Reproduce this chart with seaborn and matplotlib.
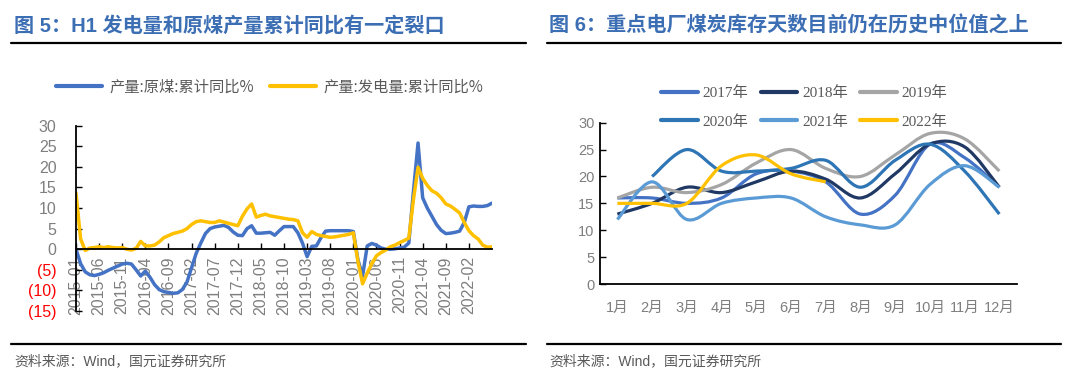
import numpy as np
import pandas as pd
import matplotlib
matplotlib.use("Agg")
import matplotlib.pyplot as plt
import seaborn as sns
from matplotlib.path import Path
from matplotlib.patches import PathPatch
from matplotlib.lines import Line2D

# ---- data: figure 5 (monthly, 2015-01 .. 2022-07) ----
months = pd.date_range("2015-01-01", "2022-07-01", freq="MS").strftime("%Y-%m").tolist()
coal_yoy = [0, -3.5, -5.5, -6.2, -6.4, -6.1, -5.7, -5.1, -4.6, -4.1, -3.6, -3.4,
            -3.6, -5.0, -6.5, -5.3, -6.8, -8.6, -9.8, -10.3, -10.5, -10.7, -10.6, -9.8,
            -8.0, -4.5, -1.0, 1.5, 3.8, 5.0, 5.4, 5.6, 5.8, 5.3, 4.2, 3.4,
            3.3, 5.0, 5.7, 3.9, 3.9, 4.0, 4.1, 3.4, 4.5, 5.5, 5.5, 5.5,
            4.0, 1.5, -1.8, 0.7, 0.8, 2.8, 4.4, 4.5, 4.5, 4.5, 4.5, 4.5,
            4.3, -2.6, -6.5, 0.8, 1.4, 1.0, 0.3, 0.0, 0.0, 0.1, 0.3, 0.5,
            1.5, 14.0, 25.8, 12.5, 10.0, 8.0, 6.0, 4.6, 3.8, 3.9, 4.1, 4.4,
            6.5, 10.3, 10.5, 10.4, 10.4, 10.6, 11.2]
power_yoy = [13.6, 2.5, -0.3, 0.3, 0.4, 0.6, 0.4, 0.6, 0.4, 0.3, 0.4, 0.0,
             -0.2, 0.2, 1.9, 0.8, 0.8, 1.0, 1.8, 2.8, 3.3, 3.8, 4.1, 4.4,
             5.0, 6.0, 6.7, 6.9, 6.7, 6.5, 6.5, 6.9, 6.6, 6.3, 6.0, 5.7,
             8.0, 9.8, 11.0, 7.8, 8.2, 8.5, 8.1, 7.9, 7.7, 7.5, 7.3, 7.2,
             6.9, 4.0, 2.9, 4.3, 3.6, 3.3, 3.1, 2.9, 3.0, 3.2, 3.4, 3.6,
             4.0, -3.0, -8.4, -5.8, -3.5, -1.6, -0.8, -0.2, 0.6, 1.0, 1.6, 2.1,
             2.7, 12.0, 19.9, 17.2, 15.5, 14.2, 13.6, 12.5, 11.0, 10.5, 9.7, 8.8,
             6.5, 4.5, 3.3, 2.5, 1.0, 0.5, 0.6]
series_names = ["产量:原煤:累计同比%", "产量:发电量:累计同比%"]
series_colors = ["#4472C4", "#FFC000"]

# ---- data: figure 6 (coal stock days by month) ----
month_labels = ["1月", "2月", "3月", "4月", "5月", "6月", "7月", "8月", "9月", "10月", "11月", "12月"]
nan = np.nan
days_2017 = [16, 16, 15, 16, 20.5, 21, 19, 13, 16.5, 26, 23.5, 18]
days_2018 = [13, 15, 18, 17, 19, 21, 19.5, 16, 20.5, 26, 25.5, 18]
days_2019 = [16, 18, 17, 18.5, 22.5, 25, 21.5, 20, 24, 28, 27, 21]
days_2020 = [nan, 20, 25, 21, 21, 21.5, 23, 18, 23, 26, 21, 13]
days_2021 = [12, 19, 12, 15, 16, 16, 12.5, 11, 11, 18.5, 22, 18]
days_2022 = [15, 15, 15, 22, 24, 20.5, 19, nan, nan, nan, nan, nan]
year_labels = ["2017年", "2018年", "2019年", "2020年", "2021年", "2022年"]
year_colors = ["#4472C4", "#203864", "#A5A5A5", "#2E75B6", "#5B9BD5", "#FFC000"]

sns.set_theme(style="white")
plt.rcParams["font.family"] = ["Liberation Sans", "Noto Sans CJK SC", "DejaVu Sans"]
plt.rcParams["axes.unicode_minus"] = False

W, H = 1080, 369
fig = plt.figure(figsize=(W / 100, H / 100), dpi=100)
GRAY = "#7F7F7F"
TITLE_BLUE = "#3C6EB4"


def px_axes(x0, y0, x1, y1):
    # pixel box (top-left origin) -> figure fraction axes
    return fig.add_axes([x0 / W, 1 - y1 / H, (x1 - x0) / W, (y1 - y0) / H])


def hline(x0, x1, y, lw=1.6):
    fig.add_artist(Line2D([x0 / W, x1 / W], [1 - y / H, 1 - y / H],
                          transform=fig.transFigure, color="black", lw=lw))


# ---------------- left chart ----------------
ax1 = px_axes(76, 125.7, 492, 311)
df = pd.DataFrame({"idx": np.arange(len(months)), "month": months,
                   series_names[0]: coal_yoy, series_names[1]: power_yoy})
long = df.melt(id_vars=["idx", "month"], value_vars=series_names,
               var_name="series", value_name="yoy")
sns.lineplot(data=long, x="idx", y="yoy", hue="series", palette=series_colors,
             linewidth=2.5, ax=ax1, legend=False)
# spine move first: it resets the tick objects
ax1.spines["bottom"].set_position(("data", 0))
for s in ["top", "right"]:
    ax1.spines[s].set_visible(False)
for s in ["left", "bottom"]:
    ax1.spines[s].set_color("black")
    ax1.spines[s].set_linewidth(1.3)
ax1.set_xlim(0, len(months) - 1)
ax1.set_ylim(-15, 30)
yt = [-15, -10, -5, 0, 5, 10, 15, 20, 25, 30]
ax1.set_yticks(yt)
ax1.set_yticklabels([f"({-v})" if v < 0 else str(v) for v in yt], fontsize=11.5)
for lab, v in zip(ax1.get_yticklabels(), yt):
    lab.set_color("#FF0000" if v < 0 else GRAY)
xt = list(range(0, len(months) - 1, 5))
ax1.set_xticks(xt)
ax1.set_xticklabels([months[i] for i in xt], fontsize=11.5, color=GRAY)
ax1.tick_params(axis="both", direction="in", length=4, width=1, color="black",
                left=True, bottom=True)
ax1.tick_params(axis="y", pad=14)
ax1.tick_params(axis="x", labelrotation=90, pad=5)
ax1.set_xlabel("")
ax1.set_ylabel("")
handles1 = [Line2D([], [], color=c, lw=3) for c in series_colors]
ax1.legend(handles1, series_names, loc="center", bbox_to_anchor=(0.466, 1.21),
           ncol=2, frameon=False, handlelength=3.0, columnspacing=1.0,
           handletextpad=0.5, labelcolor="#595959",
           prop={"family": ["Noto Sans CJK SC"], "size": 11})


# ---------------- right chart ----------------
def smooth_path(xs, ys):
    pts = np.column_stack([xs, ys])
    verts = [pts[0]]
    codes = [Path.MOVETO]
    n = len(pts)
    for i in range(n - 1):
        p0 = pts[i - 1] if i > 0 else pts[i]
        p1, p2 = pts[i], pts[i + 1]
        p3 = pts[i + 2] if i + 2 < n else p2
        verts += [p1 + (p2 - p0) / 6, p2 - (p3 - p1) / 6, p2]
        codes += [Path.CURVE4] * 3
    return Path(verts, codes)


ax2 = px_axes(600, 122.7, 1016.7, 284)
ax2.set_xlim(-0.5, 11.5)
ax2.set_ylim(0, 30)
all_years = [days_2017, days_2018, days_2019, days_2020, days_2021, days_2022]
for vals, col in zip(all_years, year_colors):
    arr = np.array(vals, dtype=float)
    xs = np.arange(len(arr))
    ok = ~np.isnan(arr)
    ax2.add_patch(PathPatch(smooth_path(xs[ok], arr[ok]), fill=False,
                            edgecolor=col, lw=2.3, capstyle="butt"))
ax2.set_xticks(range(12))
ax2.set_xticklabels(month_labels, fontsize=10.5, color=GRAY)
ax2.set_yticks(range(0, 31, 5))
ax2.set_yticklabels([str(v) for v in range(0, 31, 5)], fontsize=10.5, color=GRAY)
for s in ["top", "right"]:
    ax2.spines[s].set_visible(False)
for s in ["left", "bottom"]:
    ax2.spines[s].set_color("black")
    ax2.spines[s].set_linewidth(1.3)
ax2.tick_params(axis="y", direction="in", length=4, width=1, color="black", left=True, pad=4)
ax2.tick_params(axis="x", length=0, pad=12)
handles2 = [Line2D([], [], color=c, lw=3) for c in year_colors]
order = [0, 3, 1, 4, 2, 5]
ax2.legend([handles2[i] for i in order], [year_labels[i] for i in order],
           loc="center", bbox_to_anchor=(0.49, 1.094), ncol=3, frameon=False,
           handlelength=2.4, columnspacing=0.8, handletextpad=0.3, labelspacing=0.95,
           labelcolor="#595959",
           prop={"family": ["Liberation Serif", "Noto Sans CJK SC"], "size": 11})

# ---------------- titles, rules, sources ----------------
title_font = ["Liberation Sans", "Noto Sans CJK SC"]
fig.text(14 / W, 1 - 26 / H, "图 5：H1 发电量和原煤产量累计同比有一定裂口",
         fontsize=14.5, fontweight="bold", color=TITLE_BLUE, va="center", family=title_font)
fig.text(549 / W, 1 - 26 / H, "图 6：重点电厂煤炭库存天数目前仍在历史中位值之上",
         fontsize=14.5, fontweight="bold", color=TITLE_BLUE, va="center", family=title_font)
hline(11, 526, 43)
hline(547, 1061, 43)
hline(11, 526, 343.5)
hline(547, 1061, 343.5)
src_font = ["Liberation Sans", "Noto Sans CJK SC"]
fig.text(14 / W, 1 - 361 / H, "资料来源：Wind，国元证券研究所", fontsize=10,
         color="#595959", va="center", family=src_font)
fig.text(549 / W, 1 - 361 / H, "资料来源：Wind，国元证券研究所", fontsize=10,
         color="#595959", va="center", family=src_font)

fig.savefig("out.png", dpi=100)
